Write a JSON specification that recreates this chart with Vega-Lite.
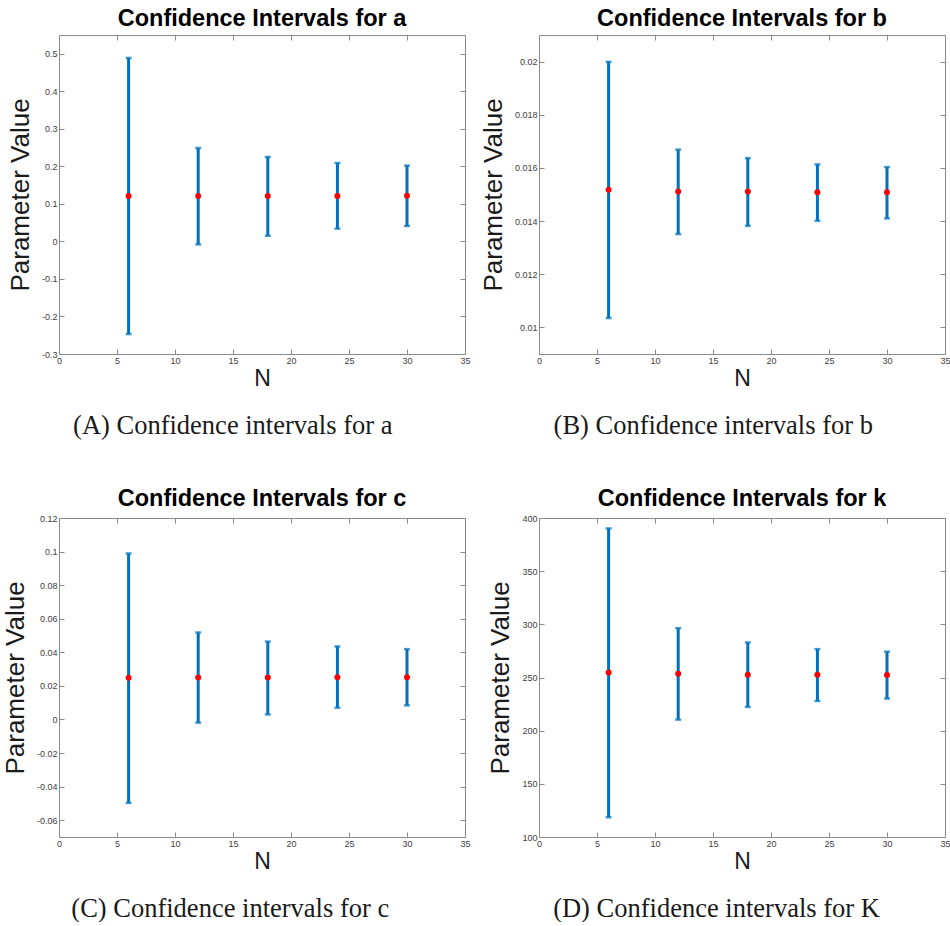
{
  "$schema": "https://vega.github.io/schema/vega-lite/v6.json",
  "background": "white",
  "padding": {"left": 1, "top": 6, "right": 0, "bottom": 0},
  "datasets": {
    "ci": [
      {"p": "a", "N": 6, "lower": -0.247, "upper": 0.489, "center": 0.121},
      {"p": "a", "N": 12, "lower": -0.008, "upper": 0.249, "center": 0.121},
      {"p": "a", "N": 18, "lower": 0.015, "upper": 0.225, "center": 0.121},
      {"p": "a", "N": 24, "lower": 0.034, "upper": 0.209, "center": 0.121},
      {"p": "a", "N": 30, "lower": 0.041, "upper": 0.202, "center": 0.122},
      {"p": "b", "N": 6, "lower": 0.01035, "upper": 0.01999, "center": 0.01518},
      {"p": "b", "N": 12, "lower": 0.01351, "upper": 0.01669, "center": 0.01511},
      {"p": "b", "N": 18, "lower": 0.01382, "upper": 0.01637, "center": 0.01511},
      {"p": "b", "N": 24, "lower": 0.01401, "upper": 0.01613, "center": 0.01508},
      {"p": "b", "N": 30, "lower": 0.0141, "upper": 0.01603, "center": 0.01508},
      {"p": "c", "N": 6, "lower": -0.0497, "upper": 0.0989, "center": 0.0249},
      {"p": "c", "N": 12, "lower": -0.0019, "upper": 0.0518, "center": 0.025},
      {"p": "c", "N": 18, "lower": 0.003, "upper": 0.0464, "center": 0.025},
      {"p": "c", "N": 24, "lower": 0.007, "upper": 0.0435, "center": 0.0252},
      {"p": "c", "N": 30, "lower": 0.0084, "upper": 0.0419, "center": 0.0252},
      {"p": "k", "N": 6, "lower": 118.5, "upper": 390.2, "center": 254.8},
      {"p": "k", "N": 12, "lower": 210.4, "upper": 296.4, "center": 253.6},
      {"p": "k", "N": 18, "lower": 222.3, "upper": 283, "center": 252.7},
      {"p": "k", "N": 24, "lower": 227.9, "upper": 276.7, "center": 252.7},
      {"p": "k", "N": 30, "lower": 230.2, "upper": 274.3, "center": 252.3}
    ]
  },
  "config": {
    "view": {"stroke": "#8a8a8a", "strokeWidth": 1},
    "axis": {
      "grid": false, "domain": false, "tickSize": -5, "tickColor": "#8a8a8a", "tickWidth": 1,
      "labelFont": "Liberation Sans", "labelFontSize": 9, "labelColor": "#404040", "labelPadding": 7,
      "labelFlush": false, "labelOverlap": false,
      "labelExpr": "replace(format(datum.value, '~r'), '\u2212', '-')",
      "titleFont": "Liberation Sans", "titleFontSize": 23, "titleFontWeight": "normal", "titleColor": "#1a1a1a"
    },
    "axisX": {"titlePadding": 2},
    "axisY": {"titlePadding": 8, "titleFontSize": 26},
    "title": {"font": "Liberation Sans", "fontSize": 23.5, "fontWeight": "bold", "color": "#000000", "offset": 4, "anchor": "middle"},
    "locale": {"number": {"decimal": ".", "thousands": ",", "grouping": [3], "currency": ["$", ""], "minus": "-"}}
  },
  "spacing": 47,
  "vconcat": [
    {
      "spacing": 8,
      "hconcat": [
        {
          "title": {"text": "(A) Confidence intervals for a", "orient": "bottom", "font": "Liberation Serif", "fontSize": 26.5, "fontWeight": "normal", "color": "#1a1a1a", "offset": 22, "anchor": "middle", "dx": -6},
          "vconcat": [
            {
              "title": "Confidence Intervals for a",
              "width": 406, "height": 319,
              "data": {"name": "ci"},
              "transform": [{"filter": "datum.p == 'a'"}],
              "layer": [
                {
                  "mark": {"type": "rule", "color": "#0072BD", "strokeWidth": 3},
                  "encoding": {
                    "x": {"field": "N", "type": "quantitative", "scale": {"domain": [0, 35], "nice": false}, "axis": {"orient": "bottom", "title": "N", "values": [0, 5, 10, 15, 20, 25, 30, 35]}},
                    "y": {"field": "lower", "type": "quantitative", "scale": {"domain": [-0.3, 0.55], "nice": false, "zero": false}, "axis": {"orient": "left", "title": "Parameter Value", "values": [-0.3, -0.2, -0.1, 0, 0.1, 0.2, 0.3, 0.4, 0.5]}},
                    "y2": {"field": "upper"}
                  }
                },
                {
                  "mark": {"type": "tick", "orient": "horizontal", "color": "#0072BD", "thickness": 2.5, "size": 6},
                  "encoding": {
                    "x": {"field": "N", "type": "quantitative", "scale": {"domain": [0, 35], "nice": false}, "axis": {"orient": "top", "title": null, "labels": false, "values": [0, 5, 10, 15, 20, 25, 30, 35]}},
                    "y": {"field": "lower", "type": "quantitative", "scale": {"domain": [-0.3, 0.55], "nice": false, "zero": false}, "axis": {"orient": "right", "title": null, "labels": false, "values": [-0.3, -0.2, -0.1, 0, 0.1, 0.2, 0.3, 0.4, 0.5]}}
                  }
                },
                {
                  "mark": {"type": "tick", "orient": "horizontal", "color": "#0072BD", "thickness": 2.5, "size": 6},
                  "encoding": {
                    "x": {"field": "N", "type": "quantitative", "scale": {"domain": [0, 35], "nice": false}, "axis": null},
                    "y": {"field": "upper", "type": "quantitative", "scale": {"domain": [-0.3, 0.55], "nice": false, "zero": false}, "axis": null}
                  }
                },
                {
                  "mark": {"type": "point", "filled": true, "color": "#FF0000", "opacity": 1, "size": 36},
                  "encoding": {
                    "x": {"field": "N", "type": "quantitative", "scale": {"domain": [0, 35], "nice": false}, "axis": null},
                    "y": {"field": "center", "type": "quantitative", "scale": {"domain": [-0.3, 0.55], "nice": false, "zero": false}, "axis": null}
                  }
                }
              ]
            }
          ]
        },
        {
          "title": {"text": "(B) Confidence intervals for b", "orient": "bottom", "font": "Liberation Serif", "fontSize": 26.5, "fontWeight": "normal", "color": "#1a1a1a", "offset": 22, "anchor": "middle", "dx": -2},
          "vconcat": [
            {
              "title": "Confidence Intervals for b",
              "width": 406, "height": 319,
              "data": {"name": "ci"},
              "transform": [{"filter": "datum.p == 'b'"}],
              "layer": [
                {
                  "mark": {"type": "rule", "color": "#0072BD", "strokeWidth": 3},
                  "encoding": {
                    "x": {"field": "N", "type": "quantitative", "scale": {"domain": [0, 35], "nice": false}, "axis": {"orient": "bottom", "title": "N", "values": [0, 5, 10, 15, 20, 25, 30, 35]}},
                    "y": {"field": "lower", "type": "quantitative", "scale": {"domain": [0.009, 0.021], "nice": false, "zero": false}, "axis": {"orient": "left", "title": "Parameter Value", "values": [0.01, 0.012, 0.014, 0.016, 0.018, 0.02]}},
                    "y2": {"field": "upper"}
                  }
                },
                {
                  "mark": {"type": "tick", "orient": "horizontal", "color": "#0072BD", "thickness": 2.5, "size": 6},
                  "encoding": {
                    "x": {"field": "N", "type": "quantitative", "scale": {"domain": [0, 35], "nice": false}, "axis": {"orient": "top", "title": null, "labels": false, "values": [0, 5, 10, 15, 20, 25, 30, 35]}},
                    "y": {"field": "lower", "type": "quantitative", "scale": {"domain": [0.009, 0.021], "nice": false, "zero": false}, "axis": {"orient": "right", "title": null, "labels": false, "values": [0.01, 0.012, 0.014, 0.016, 0.018, 0.02]}}
                  }
                },
                {
                  "mark": {"type": "tick", "orient": "horizontal", "color": "#0072BD", "thickness": 2.5, "size": 6},
                  "encoding": {
                    "x": {"field": "N", "type": "quantitative", "scale": {"domain": [0, 35], "nice": false}, "axis": null},
                    "y": {"field": "upper", "type": "quantitative", "scale": {"domain": [0.009, 0.021], "nice": false, "zero": false}, "axis": null}
                  }
                },
                {
                  "mark": {"type": "point", "filled": true, "color": "#FF0000", "opacity": 1, "size": 36},
                  "encoding": {
                    "x": {"field": "N", "type": "quantitative", "scale": {"domain": [0, 35], "nice": false}, "axis": null},
                    "y": {"field": "center", "type": "quantitative", "scale": {"domain": [0.009, 0.021], "nice": false, "zero": false}, "axis": null}
                  }
                }
              ]
            }
          ]
        }
      ]
    },
    {
      "spacing": 16,
      "hconcat": [
        {
          "title": {"text": "(C) Confidence intervals for c", "orient": "bottom", "font": "Liberation Serif", "fontSize": 26.5, "fontWeight": "normal", "color": "#1a1a1a", "offset": 22, "anchor": "middle", "dx": -6},
          "vconcat": [
            {
              "title": "Confidence Intervals for c",
              "width": 406, "height": 319,
              "data": {"name": "ci"},
              "transform": [{"filter": "datum.p == 'c'"}],
              "layer": [
                {
                  "mark": {"type": "rule", "color": "#0072BD", "strokeWidth": 3},
                  "encoding": {
                    "x": {"field": "N", "type": "quantitative", "scale": {"domain": [0, 35], "nice": false}, "axis": {"orient": "bottom", "title": "N", "values": [0, 5, 10, 15, 20, 25, 30, 35]}},
                    "y": {"field": "lower", "type": "quantitative", "scale": {"domain": [-0.07, 0.12], "nice": false, "zero": false}, "axis": {"orient": "left", "title": "Parameter Value", "values": [-0.06, -0.04, -0.02, 0, 0.02, 0.04, 0.06, 0.08, 0.1, 0.12]}},
                    "y2": {"field": "upper"}
                  }
                },
                {
                  "mark": {"type": "tick", "orient": "horizontal", "color": "#0072BD", "thickness": 2.5, "size": 6},
                  "encoding": {
                    "x": {"field": "N", "type": "quantitative", "scale": {"domain": [0, 35], "nice": false}, "axis": {"orient": "top", "title": null, "labels": false, "values": [0, 5, 10, 15, 20, 25, 30, 35]}},
                    "y": {"field": "lower", "type": "quantitative", "scale": {"domain": [-0.07, 0.12], "nice": false, "zero": false}, "axis": {"orient": "right", "title": null, "labels": false, "values": [-0.06, -0.04, -0.02, 0, 0.02, 0.04, 0.06, 0.08, 0.1, 0.12]}}
                  }
                },
                {
                  "mark": {"type": "tick", "orient": "horizontal", "color": "#0072BD", "thickness": 2.5, "size": 6},
                  "encoding": {
                    "x": {"field": "N", "type": "quantitative", "scale": {"domain": [0, 35], "nice": false}, "axis": null},
                    "y": {"field": "upper", "type": "quantitative", "scale": {"domain": [-0.07, 0.12], "nice": false, "zero": false}, "axis": null}
                  }
                },
                {
                  "mark": {"type": "point", "filled": true, "color": "#FF0000", "opacity": 1, "size": 36},
                  "encoding": {
                    "x": {"field": "N", "type": "quantitative", "scale": {"domain": [0, 35], "nice": false}, "axis": null},
                    "y": {"field": "center", "type": "quantitative", "scale": {"domain": [-0.07, 0.12], "nice": false, "zero": false}, "axis": null}
                  }
                }
              ]
            }
          ]
        },
        {
          "title": {"text": "(D) Confidence intervals for K", "orient": "bottom", "font": "Liberation Serif", "fontSize": 26.5, "fontWeight": "normal", "color": "#1a1a1a", "offset": 22, "anchor": "middle", "dx": -2.5},
          "vconcat": [
            {
              "title": "Confidence Intervals for k",
              "width": 406, "height": 319,
              "data": {"name": "ci"},
              "transform": [{"filter": "datum.p == 'k'"}],
              "layer": [
                {
                  "mark": {"type": "rule", "color": "#0072BD", "strokeWidth": 3},
                  "encoding": {
                    "x": {"field": "N", "type": "quantitative", "scale": {"domain": [0, 35], "nice": false}, "axis": {"orient": "bottom", "title": "N", "values": [0, 5, 10, 15, 20, 25, 30, 35]}},
                    "y": {"field": "lower", "type": "quantitative", "scale": {"domain": [100, 400], "nice": false, "zero": false}, "axis": {"orient": "left", "title": "Parameter Value", "values": [100, 150, 200, 250, 300, 350, 400]}},
                    "y2": {"field": "upper"}
                  }
                },
                {
                  "mark": {"type": "tick", "orient": "horizontal", "color": "#0072BD", "thickness": 2.5, "size": 6},
                  "encoding": {
                    "x": {"field": "N", "type": "quantitative", "scale": {"domain": [0, 35], "nice": false}, "axis": {"orient": "top", "title": null, "labels": false, "values": [0, 5, 10, 15, 20, 25, 30, 35]}},
                    "y": {"field": "lower", "type": "quantitative", "scale": {"domain": [100, 400], "nice": false, "zero": false}, "axis": {"orient": "right", "title": null, "labels": false, "values": [100, 150, 200, 250, 300, 350, 400]}}
                  }
                },
                {
                  "mark": {"type": "tick", "orient": "horizontal", "color": "#0072BD", "thickness": 2.5, "size": 6},
                  "encoding": {
                    "x": {"field": "N", "type": "quantitative", "scale": {"domain": [0, 35], "nice": false}, "axis": null},
                    "y": {"field": "upper", "type": "quantitative", "scale": {"domain": [100, 400], "nice": false, "zero": false}, "axis": null}
                  }
                },
                {
                  "mark": {"type": "point", "filled": true, "color": "#FF0000", "opacity": 1, "size": 36},
                  "encoding": {
                    "x": {"field": "N", "type": "quantitative", "scale": {"domain": [0, 35], "nice": false}, "axis": null},
                    "y": {"field": "center", "type": "quantitative", "scale": {"domain": [100, 400], "nice": false, "zero": false}, "axis": null}
                  }
                }
              ]
            }
          ]
        }
      ]
    }
  ]
}
